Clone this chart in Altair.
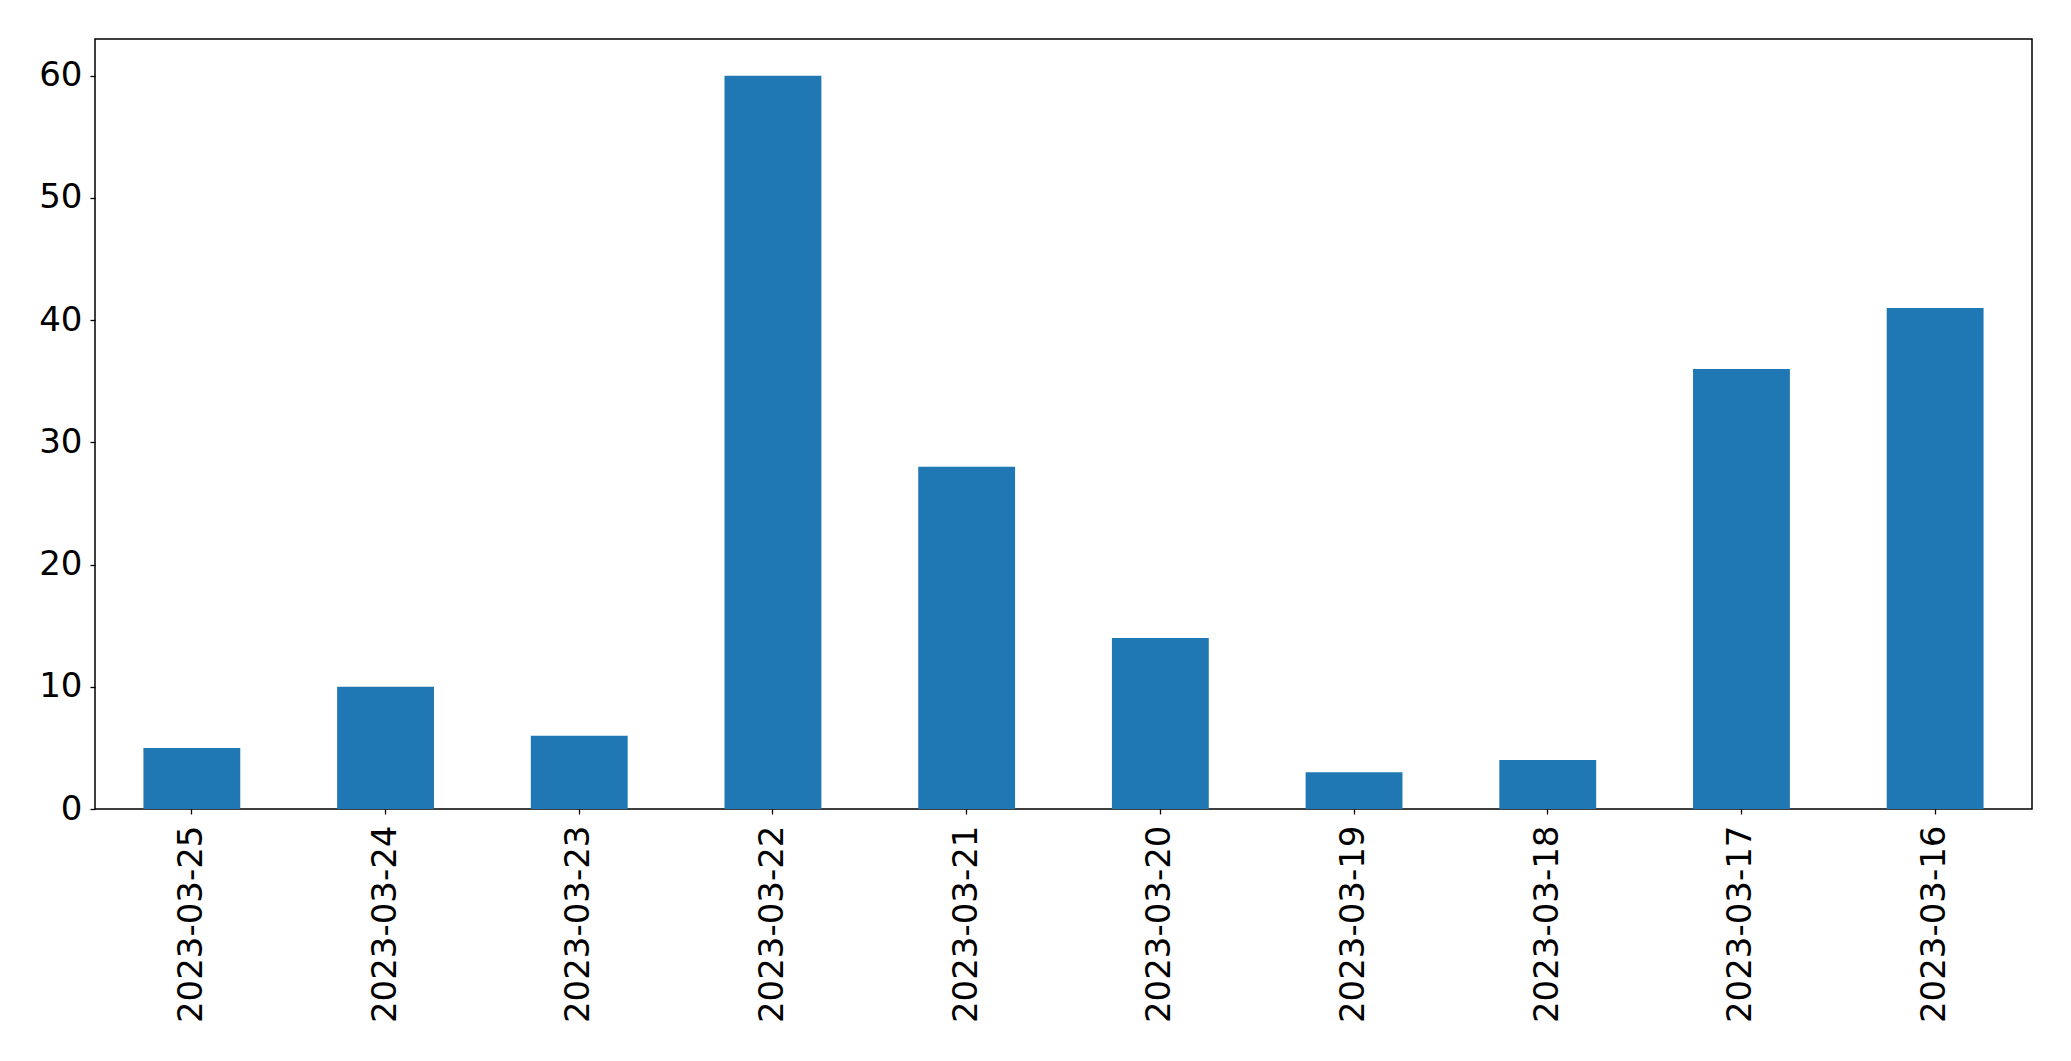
import altair as alt
import pandas as pd

dates = ["2023-03-25", "2023-03-24", "2023-03-23", "2023-03-22", "2023-03-21",
         "2023-03-20", "2023-03-19", "2023-03-18", "2023-03-17", "2023-03-16"]
counts = [5, 10, 6, 60, 28, 14, 3, 4, 36, 41]
y_ticks = [0, 10, 20, 30, 40, 50, 60]

df = pd.DataFrame({"date": dates, "count": counts})

chart = alt.Chart(df).mark_bar(color="#1f77b4").encode(
    x=alt.X("date:N", sort=None, title=None,
            scale=alt.Scale(paddingInner=0.5, paddingOuter=0.25),
            axis=alt.Axis(labelAngle=-90, labelFontSize=34, labelFont="DejaVu Sans",
                          labelColor="black", tickColor="black", tickSize=5,
                          tickWidth=1.3, labelPadding=11, domain=False, labelLimit=0,
                          labelBaseline="middle", labelAlign="right")),
    y=alt.Y("count:Q", title=None,
            scale=alt.Scale(domain=[0, 63], nice=False, zero=True),
            axis=alt.Axis(values=y_ticks, labelFontSize=34, labelFont="DejaVu Sans",
                          labelColor="black", tickColor="black", tickSize=5,
                          tickWidth=1.3, labelPadding=8, domain=False, grid=False)),
).properties(
    width=1937, height=770,
    background="white",
    autosize=alt.AutoSizeParams(type="none"),
    padding={"left": 87, "top": 31, "right": 30, "bottom": 245},
).configure_view(
    stroke="black", strokeWidth=1.5
)

chart.save("out.html", embed_options={"renderer": "svg", "actions": False})
